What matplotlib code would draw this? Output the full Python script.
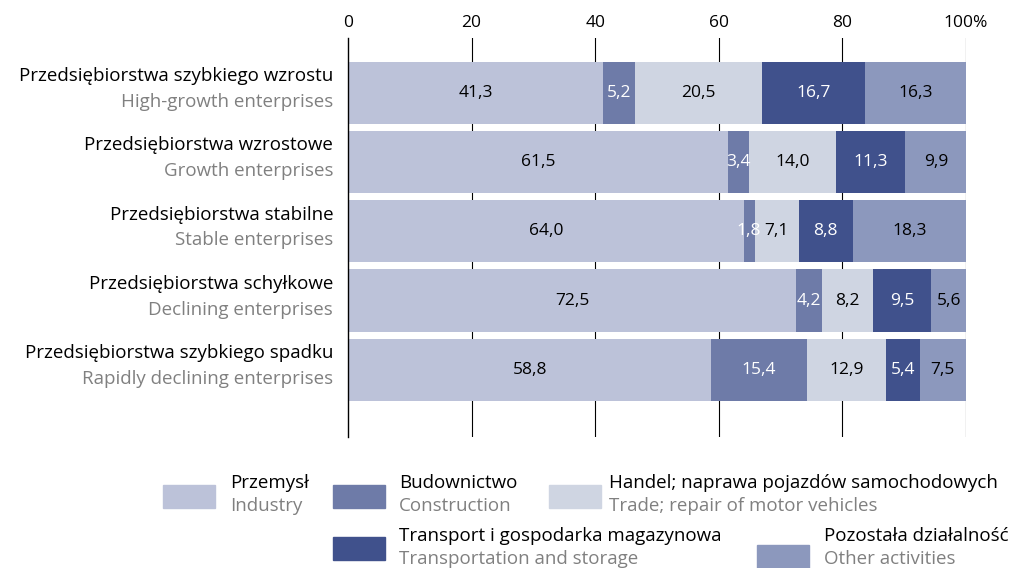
import matplotlib.pyplot as plt
from matplotlib.patches import Rectangle

plt.rcParams['font.family'] = ['Open Sans', 'DejaVu Sans']

# Dane
grupy_pl = ['Przedsiębiorstwa szybkiego wzrostu', 'Przedsiębiorstwa wzrostowe',
            'Przedsiębiorstwa stabilne', 'Przedsiębiorstwa schyłkowe',
            'Przedsiębiorstwa szybkiego spadku']
grupy_en = ['High-growth enterprises', 'Growth enterprises', 'Stable enterprises',
            'Declining enterprises', 'Rapidly declining enterprises']
przemysl = [41.3, 61.5, 64.0, 72.5, 58.8]
budownictwo = [5.2, 3.4, 1.8, 4.2, 15.4]
handel = [20.5, 14.0, 7.1, 8.2, 12.9]
transport = [16.7, 11.3, 8.8, 9.5, 5.4]
pozostale = [16.3, 9.9, 18.3, 5.6, 7.5]

sekcje_pl = ['Przemysł', 'Budownictwo', 'Handel; naprawa pojazdów samochodowych',
             'Transport i gospodarka magazynowa', 'Pozostała działalność']
sekcje_en = ['Industry', 'Construction', 'Trade; repair of motor vehicles',
             'Transportation and storage', 'Other activities']
kolory = ['#bcc2d9', '#6e7ba8', '#cfd5e2', '#40518c', '#8c98bd']
kolory_tekstu = ['black', 'white', 'black', 'white', 'black']

W, H = 1015, 568
fs = 13.5
fig = plt.figure(figsize=(W / 100, H / 100), dpi=100)
ax = fig.add_axes([348 / W, 1 - 437 / H, (966 - 348) / W, (437 - 38) / H])

serie = [przemysl, budownictwo, handel, transport, pozostale]
y = list(range(len(grupy_pl)))
lewo = [0.0] * len(y)
for s, kol, kt in zip(serie, kolory, kolory_tekstu):
    ax.barh(y, s, left=lewo, height=0.9, color=kol, zorder=2)
    for i, v in enumerate(s):
        ax.text(lewo[i] + v / 2, y[i], f'{v:.1f}'.replace('.', ','),
                ha='center', va='center', fontsize=12.5, color=kt, zorder=3)
    lewo = [a + b for a, b in zip(lewo, s)]

ax.set_xlim(0, 100)
ax.set_ylim(len(y) - 1 + 0.97, -0.79)
ax.xaxis.tick_top()
ax.set_xticks([0, 20, 40, 60, 80, 100])
ax.set_xticklabels(['0', '20', '40', '60', '80', '100%'], fontsize=12.5)
ax.tick_params(axis='x', length=0, pad=5)
ax.tick_params(axis='y', length=0)
ax.set_yticks([])
for t in [20, 40, 60, 80, 100]:
    ax.axvline(t, color='black', lw=0.8, zorder=1)
for sp in ['top', 'right', 'bottom']:
    ax.spines[sp].set_visible(False)
ax.spines['left'].set_linewidth(1.0)

# Etykiety kategorii
for i in y:
    ax.text(-2.4, i - 0.24, grupy_pl[i], ha='right', va='center', fontsize=fs,
            color='black', clip_on=False)
    ax.text(-2.4, i + 0.13, grupy_en[i], ha='right', va='center', fontsize=fs,
            color='#808080', clip_on=False)

# Legenda
poz = [(163, 485, 230), (333, 485, 399), (549, 485, 609), (333, 537, 399), (757, 545, 824)]
for (px, py, tx), kol, pl, en in zip(poz, kolory, sekcje_pl, sekcje_en):
    fig.add_artist(Rectangle((px / W, 1 - (py + 23) / H), 52 / W, 23 / H,
                             color=kol, transform=fig.transFigure))
    ty = 483 if py == 485 else 536
    fig.text(tx / W, 1 - ty / H, pl, ha='left', va='center', fontsize=fs)
    fig.text(tx / W, 1 - (ty + 23) / H, en, ha='left', va='center', fontsize=fs,
             color='#808080')

fig.savefig('out.png', dpi=100)
plt.close(fig)
